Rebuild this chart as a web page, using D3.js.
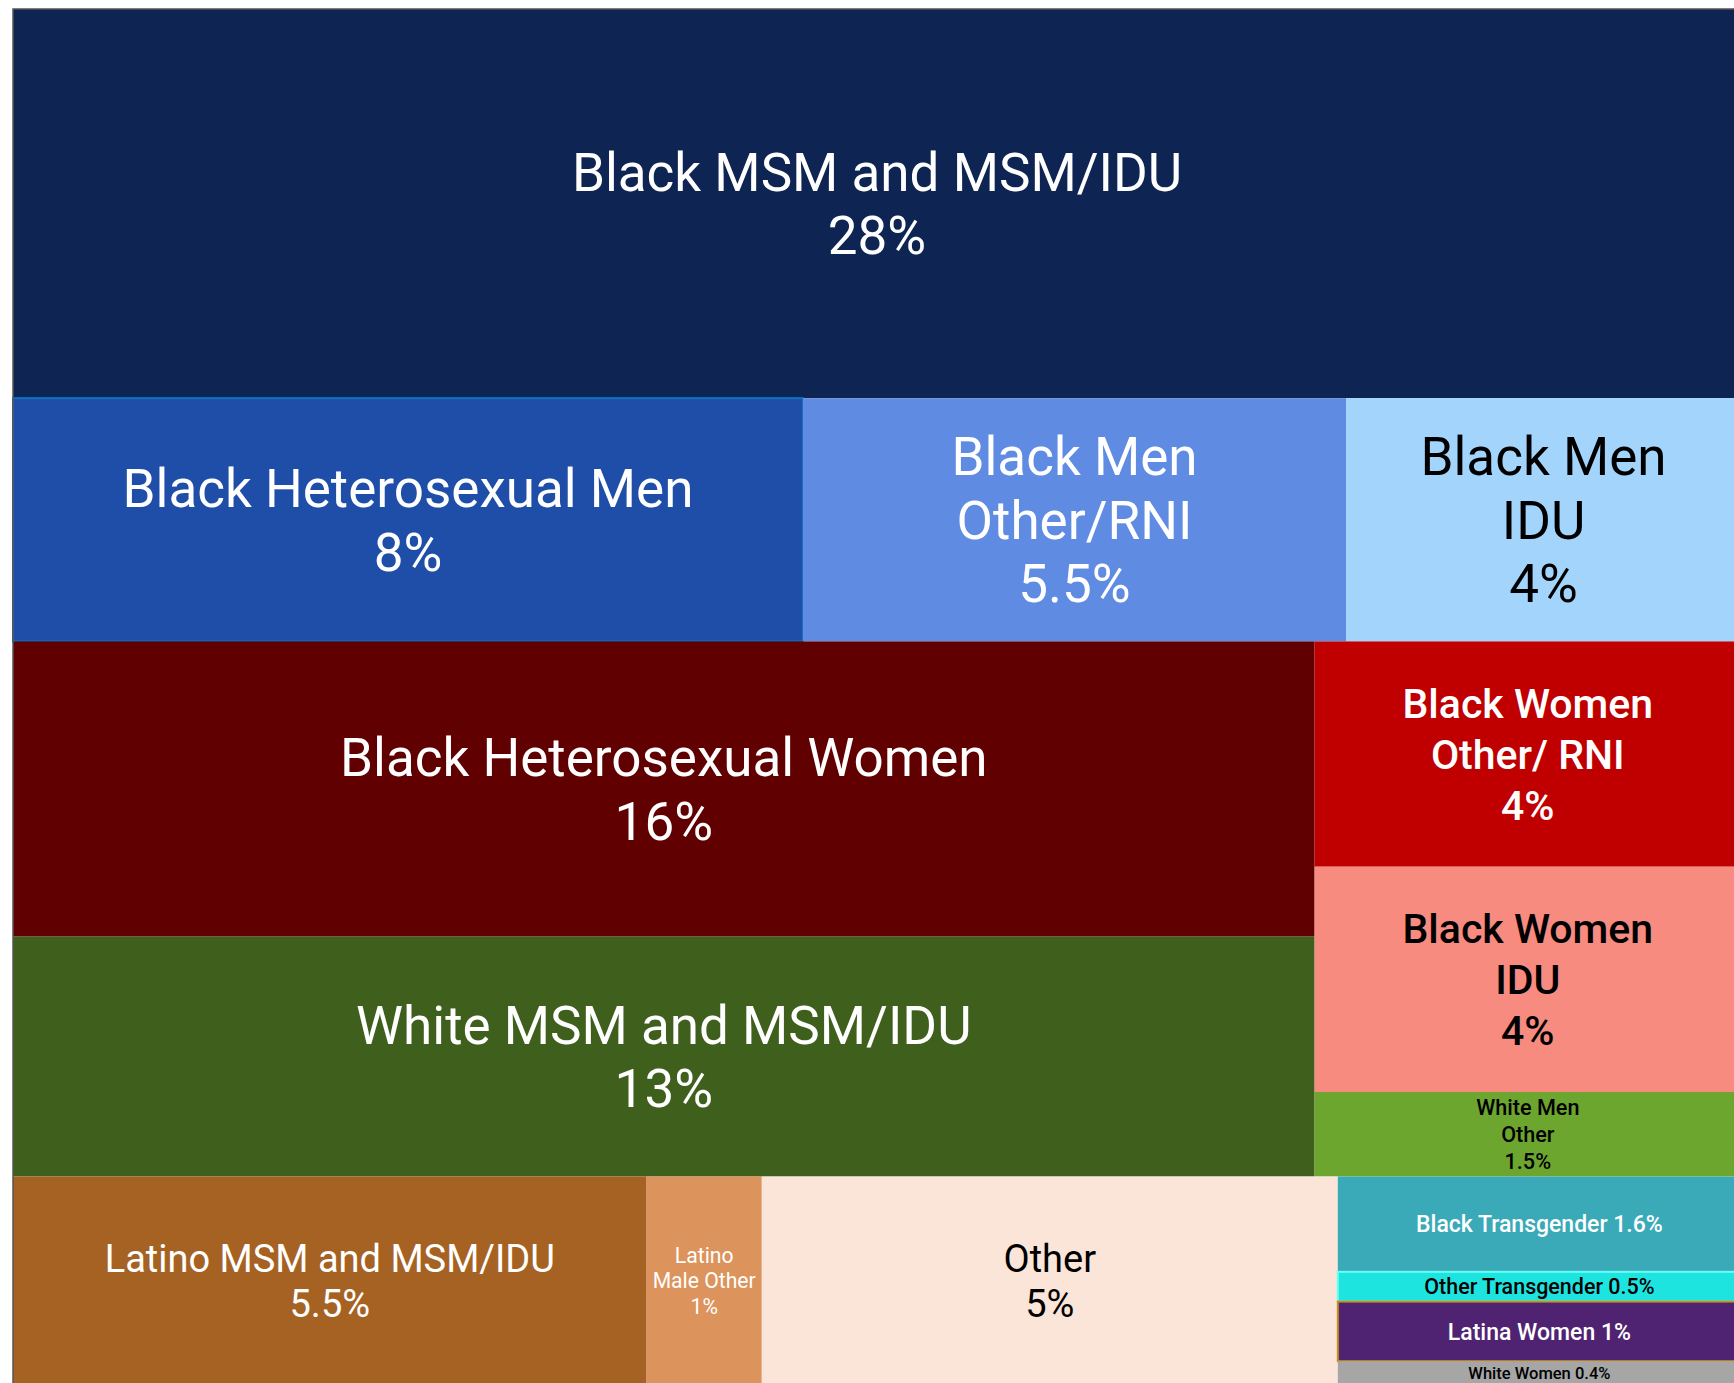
<!DOCTYPE html>
<html lang="en">
<head>
<meta charset="utf-8">
<title>New diagnoses by population group</title>
<script src="https://d3js.org/d3.v7.min.js"></script>
<style>
    body { margin: 0; background: #fff; }
    svg { display: block; font-family: Roboto, "Noto Sans", sans-serif; }
</style>
</head>
<body>
<div id="chart"></div>
<script>

// population groups, top to bottom then left to right ("\n" = line break in the label)
var categories = [
    "Black MSM and MSM/IDU",
    "Black Heterosexual Men", "Black Men\nOther/RNI", "Black Men\nIDU",
    "Black Heterosexual Women", "White MSM and MSM/IDU",
    "Black Women\nOther/ RNI", "Black Women\nIDU", "White Men\nOther",
    "Latino MSM and MSM/IDU", "Latino\nMale Other", "Other",
    "Black Transgender", "Other Transgender", "Latina Women", "White Women"
];

// share of all diagnoses, percent
var shares = [28, 8, 5.5, 4, 16, 13, 4, 4, 1.5, 5.5, 1, 5, 1.6, 0.5, 1, 0.4];

// block of the layout that each group belongs to
var blocks = [
    "top",
    "men", "men", "men",
    "womenL", "womenL",
    "womenR", "womenR", "womenR",
    "bottom", "bottom", "bottom",
    "stack", "stack", "stack", "stack"
];

// styles
var fills = ["#0e2452", "#1f4ea8", "#5f8ce2", "#a2d4fc", "#600000", "#3f5f1c",
             "#c00000", "#f78b80", "#6da62e", "#a66223", "#dc945c", "#fbe5d8",
             "#3aa9b8", "#1ee4e0", "#4f2371", "#a6a6a6"];
var inks = ["#fff", "#fff", "#fff", "#000", "#fff", "#fff",
            "#fff", "#000", "#000", "#fff", "#fff", "#000",
            "#fff", "#000", "#fff", "#000"];
var edges = {1: "#1170c0", 13: "#66fff6", 14: "#c8901a"};

var blockFont = {
    top:    {size: 53, weight: 400, lh: 1.2},
    men:    {size: 53, weight: 400, lh: 1.2},
    womenL: {size: 53, weight: 400, lh: 1.2},
    womenR: {size: 41, weight: 500, lh: 1.24},
    bottom: {size: 38, weight: 400, lh: 1.2},
    stack:  {size: 23, weight: 500, lh: 1.2}
};

var width = 1734;
var height = 1383;
// the chart runs a few pixels past the right and bottom of the frame
var x0 = 13, y0 = 9, x1 = 1741, y1 = 1385;

function leaves(block) {
    return categories
        .map(function(c, i) { return {name: c, value: shares[i], block: blocks[i], index: i}; })
        .filter(function(d) { return d.block === block; });
}

// split: "y" stacks children top to bottom, "x" places them left to right
var tree = {name: "root", split: "y", children: [
    {name: "top", split: "y", children: leaves("top")},
    {name: "men", split: "x", children: leaves("men")},
    {name: "women", split: "x", children: [
        {name: "womenL", split: "y", children: leaves("womenL")},
        {name: "womenR", split: "y", children: leaves("womenR")}
    ]},
    {name: "bottom", split: "x", children: leaves("bottom").concat([
        {name: "stack", split: "y", children: leaves("stack")}
    ])}
]};

function tile(node, a, b, c, d) {
    (node.data.split === "x" ? d3.treemapDice : d3.treemapSlice)(node, a, b, c, d);
}

var root = d3.hierarchy(tree).sum(function(d) { return d.value || 0; });

d3.treemap()
    .tile(tile)
    .size([x1 - x0, y1 - y0])
    (root);

var svg = d3.select("#chart")
    .append("svg")
    .attr("width", width)
    .attr("height", height)
    .style("overflow", "hidden");

var g = svg.append("g")
    .attr("transform", "translate(" + x0 + "," + y0 + ")");

var cell = g.selectAll("g.cell")
    .data(root.leaves())
    .enter()
    .append("g")
    .attr("class", "cell");

cell.append("rect")
    .attr("x", function(d) { return d.x0; })
    .attr("y", function(d) { return d.y0; })
    .attr("width", function(d) { return d.x1 - d.x0; })
    .attr("height", function(d) { return d.y1 - d.y0; })
    .attr("fill", function(d) { return fills[d.data.index]; })
    .attr("stroke", function(d) { return edges[d.data.index] || "none"; })
    .attr("stroke-width", 2);

// thin frame on the top and left, like the original
g.append("path")
    .attr("d", "M" + root.x0 + "," + root.y1 + "V" + root.y0 + "H" + root.x1)
    .attr("fill", "none")
    .attr("stroke", "#555")
    .attr("stroke-width", 1.5);

cell.each(function(d) {
    var f = blockFont[d.data.block];
    var pct = d.data.value + "%";
    var lines = d.data.block === "stack"
        ? [d.data.name + " " + pct]
        : d.data.name.split("\n").concat([pct]);

    var text = d3.select(this).append("text")
        .attr("text-anchor", "middle")
        .attr("fill", inks[d.data.index])
        .style("font-weight", f.weight)
        .style("font-size", f.size + "px");

    var spans = text.selectAll("tspan")
        .data(lines)
        .enter()
        .append("tspan")
        .attr("x", (d.x0 + d.x1) / 2)
        .text(function(t) { return t; });

    // shrink the label if the cell is too small for it
    var w = d.x1 - d.x0, h = d.y1 - d.y0;
    var widest = d3.max(spans.nodes(), function(n) { return n.getComputedTextLength(); });
    var size = Math.min(f.size,
        f.size * (w - 12) / widest,
        (h - 4) / (lines.length * f.lh));
    text.style("font-size", size + "px");

    var step = size * f.lh;
    var cy = (d.y0 + d.y1) / 2;
    spans.attr("y", function(t, i) {
        return cy + (i - (lines.length - 1) / 2) * step + size * 0.36;
    });
});

</script>
</body>
</html>
